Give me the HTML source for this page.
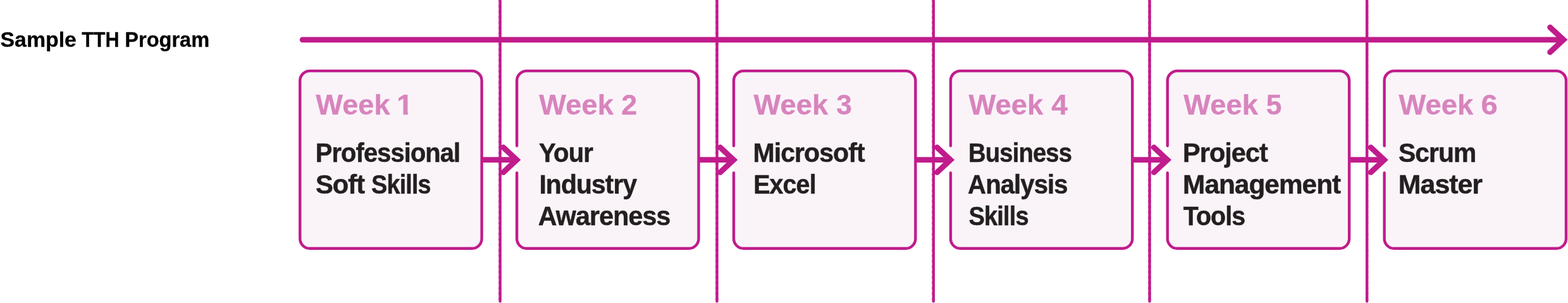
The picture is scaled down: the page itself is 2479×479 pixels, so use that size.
<!DOCTYPE html>
<html lang="en">
<head>
<meta charset="utf-8">
<title>Sample TTH Program</title>
<style>
html,body{margin:0;padding:0;background:#fff;}
body{width:2479px;height:479px;overflow:hidden;}
svg{display:block;will-change:transform;}
text{font-family:"Liberation Sans",sans-serif;font-weight:bold;}
</style>
</head>
<body>
<svg width="2479" height="479" viewBox="0 0 2479 479">
<text y="73.75" font-size="33.6" fill="#000000" stroke="#000000" stroke-width="0.3" stroke-linejoin="round"><tspan x="0.50" textLength="120.36" lengthAdjust="spacingAndGlyphs">Sample</tspan> <tspan x="129.16" textLength="59.39" lengthAdjust="spacingAndGlyphs">TTH</tspan> <tspan x="197.29" textLength="133.89" lengthAdjust="spacingAndGlyphs">Program</tspan></text>
<path d="M489.80 112.10H746.15A15.5 15.5 0 0 1 761.65 127.60V377.30A15.5 15.5 0 0 1 746.15 392.80H489.80A15.5 15.5 0 0 1 474.30 377.30V127.60A15.5 15.5 0 0 1 489.80 112.10Z" fill="#faf4f9"/>
<path d="M489.80 112.10H746.15A15.5 15.5 0 0 1 761.65 127.60V377.30A15.5 15.5 0 0 1 746.15 392.80H489.80A15.5 15.5 0 0 1 474.30 377.30V127.60A15.5 15.5 0 0 1 489.80 112.10Z" fill="none" stroke="#c01c8c" stroke-width="4.4" stroke-linecap="round"/>
<path d="M832.67 112.10H1089.02A15.5 15.5 0 0 1 1104.52 127.60V377.30A15.5 15.5 0 0 1 1089.02 392.80H832.67A15.5 15.5 0 0 1 817.17 377.30V127.60A15.5 15.5 0 0 1 832.67 112.10Z" fill="#faf4f9"/>
<path d="M817.17 230.60V127.60A15.5 15.5 0 0 1 832.67 112.10H1089.02A15.5 15.5 0 0 1 1104.52 127.60V377.30A15.5 15.5 0 0 1 1089.02 392.80H832.67A15.5 15.5 0 0 1 817.17 377.30V273.20" fill="none" stroke="#c01c8c" stroke-width="4.4" stroke-linecap="round"/>
<path d="M1175.54 112.10H1431.89A15.5 15.5 0 0 1 1447.39 127.60V377.30A15.5 15.5 0 0 1 1431.89 392.80H1175.54A15.5 15.5 0 0 1 1160.04 377.30V127.60A15.5 15.5 0 0 1 1175.54 112.10Z" fill="#faf4f9"/>
<path d="M1160.04 230.60V127.60A15.5 15.5 0 0 1 1175.54 112.10H1431.89A15.5 15.5 0 0 1 1447.39 127.60V377.30A15.5 15.5 0 0 1 1431.89 392.80H1175.54A15.5 15.5 0 0 1 1160.04 377.30V273.20" fill="none" stroke="#c01c8c" stroke-width="4.4" stroke-linecap="round"/>
<path d="M1518.41 112.10H1774.76A15.5 15.5 0 0 1 1790.26 127.60V377.30A15.5 15.5 0 0 1 1774.76 392.80H1518.41A15.5 15.5 0 0 1 1502.91 377.30V127.60A15.5 15.5 0 0 1 1518.41 112.10Z" fill="#faf4f9"/>
<path d="M1502.91 230.60V127.60A15.5 15.5 0 0 1 1518.41 112.10H1774.76A15.5 15.5 0 0 1 1790.26 127.60V377.30A15.5 15.5 0 0 1 1774.76 392.80H1518.41A15.5 15.5 0 0 1 1502.91 377.30V273.20" fill="none" stroke="#c01c8c" stroke-width="4.4" stroke-linecap="round"/>
<path d="M1861.28 112.10H2117.63A15.5 15.5 0 0 1 2133.13 127.60V377.30A15.5 15.5 0 0 1 2117.63 392.80H1861.28A15.5 15.5 0 0 1 1845.78 377.30V127.60A15.5 15.5 0 0 1 1861.28 112.10Z" fill="#faf4f9"/>
<path d="M1845.78 230.60V127.60A15.5 15.5 0 0 1 1861.28 112.10H2117.63A15.5 15.5 0 0 1 2133.13 127.60V377.30A15.5 15.5 0 0 1 2117.63 392.80H1861.28A15.5 15.5 0 0 1 1845.78 377.30V273.20" fill="none" stroke="#c01c8c" stroke-width="4.4" stroke-linecap="round"/>
<path d="M2204.15 112.10H2460.50A15.5 15.5 0 0 1 2476.00 127.60V377.30A15.5 15.5 0 0 1 2460.50 392.80H2204.15A15.5 15.5 0 0 1 2188.65 377.30V127.60A15.5 15.5 0 0 1 2204.15 112.10Z" fill="#faf4f9"/>
<path d="M2188.65 230.60V127.60A15.5 15.5 0 0 1 2204.15 112.10H2460.50A15.5 15.5 0 0 1 2476.00 127.60V377.30A15.5 15.5 0 0 1 2460.50 392.80H2204.15A15.5 15.5 0 0 1 2188.65 377.30V273.20" fill="none" stroke="#c01c8c" stroke-width="4.4" stroke-linecap="round"/>
<path d="M761.65 252.7H815.00" fill="none" stroke="#c01c8c" stroke-width="8.7"/>
<path d="M795.70 233.00L817.00 252.7L795.70 272.40" fill="none" stroke="#c01c8c" stroke-width="8.8" stroke-linecap="round" stroke-linejoin="miter"/>
<path d="M1104.52 252.7H1157.87" fill="none" stroke="#c01c8c" stroke-width="8.7"/>
<path d="M1138.57 233.00L1159.87 252.7L1138.57 272.40" fill="none" stroke="#c01c8c" stroke-width="8.8" stroke-linecap="round" stroke-linejoin="miter"/>
<path d="M1447.39 252.7H1500.74" fill="none" stroke="#c01c8c" stroke-width="8.7"/>
<path d="M1481.44 233.00L1502.74 252.7L1481.44 272.40" fill="none" stroke="#c01c8c" stroke-width="8.8" stroke-linecap="round" stroke-linejoin="miter"/>
<path d="M1790.26 252.7H1843.61" fill="none" stroke="#c01c8c" stroke-width="8.7"/>
<path d="M1824.31 233.00L1845.61 252.7L1824.31 272.40" fill="none" stroke="#c01c8c" stroke-width="8.8" stroke-linecap="round" stroke-linejoin="miter"/>
<path d="M2133.13 252.7H2186.48" fill="none" stroke="#c01c8c" stroke-width="8.7"/>
<path d="M2167.18 233.00L2188.48 252.7L2167.18 272.40" fill="none" stroke="#c01c8c" stroke-width="8.8" stroke-linecap="round" stroke-linejoin="miter"/>
<path d="M790.65 2.7V476.3" fill="none" stroke="#c01c8c" stroke-width="4.4" stroke-linecap="round"/>
<path d="M790.50 1.43V476.5" fill="none" stroke="#c01c8c" stroke-width="4.7" stroke-linecap="round" stroke-dasharray="0 8.57"/>
<path d="M1133.55 2.7V476.3" fill="none" stroke="#c01c8c" stroke-width="4.4" stroke-linecap="round"/>
<path d="M1133.40 1.43V476.5" fill="none" stroke="#c01c8c" stroke-width="4.7" stroke-linecap="round" stroke-dasharray="0 8.57"/>
<path d="M1475.80 2.7V476.3" fill="none" stroke="#c01c8c" stroke-width="4.4" stroke-linecap="round"/>
<path d="M1475.65 1.43V476.5" fill="none" stroke="#c01c8c" stroke-width="4.7" stroke-linecap="round" stroke-dasharray="0 8.57"/>
<path d="M1817.55 2.7V476.3" fill="none" stroke="#c01c8c" stroke-width="4.4" stroke-linecap="round"/>
<path d="M1817.40 1.43V476.5" fill="none" stroke="#c01c8c" stroke-width="4.7" stroke-linecap="round" stroke-dasharray="0 8.57"/>
<path d="M2161.20 2.7V476.3" fill="none" stroke="#c01c8c" stroke-width="4.4" stroke-linecap="round"/>
<path d="M2161.05 1.43V476.5" fill="none" stroke="#c01c8c" stroke-width="4.7" stroke-linecap="round" stroke-dasharray="0 8.57"/>
<path d="M478.2 62.85H2469.90" fill="none" stroke="#c01c8c" stroke-width="8.8" stroke-linecap="round"/>
<path d="M2450.60 43.15L2471.90 62.85L2450.60 82.55" fill="none" stroke="#c01c8c" stroke-width="8.8" stroke-linecap="round" stroke-linejoin="miter"/>
<text y="180.85" font-size="44" fill="#d884bd" stroke="#d884bd" stroke-width="0.3" stroke-linejoin="round" clip-path="url(#c1)"><tspan x="499.26" textLength="117.51" lengthAdjust="spacingAndGlyphs">Week</tspan> <tspan x="627.05" textLength="25.92" lengthAdjust="spacingAndGlyphs">1</tspan></text>
<text y="256.20" font-size="43" fill="#231f20" stroke="#231f20" stroke-width="0.5" stroke-linejoin="round"><tspan x="498.75" textLength="228.54" lengthAdjust="spacingAndGlyphs" letter-spacing="-1">Professional</tspan></text>
<text y="306.20" font-size="43" fill="#231f20" stroke="#231f20" stroke-width="0.5" stroke-linejoin="round"><tspan x="498.90" textLength="77.24" lengthAdjust="spacingAndGlyphs" letter-spacing="-1">Soft</tspan> <tspan x="587.08" textLength="93.69" lengthAdjust="spacingAndGlyphs" letter-spacing="-1">Skills</tspan></text>
<text y="180.85" font-size="44" fill="#d884bd" stroke="#d884bd" stroke-width="0.3" stroke-linejoin="round"><tspan x="852.36" textLength="117.50" lengthAdjust="spacingAndGlyphs">Week</tspan> <tspan x="982.29" textLength="25.13" lengthAdjust="spacingAndGlyphs">2</tspan></text>
<text y="256.20" font-size="43" fill="#231f20" stroke="#231f20" stroke-width="0.5" stroke-linejoin="round"><tspan x="851.98" textLength="85.13" lengthAdjust="spacingAndGlyphs" letter-spacing="-1">Your</tspan></text>
<text y="306.20" font-size="43" fill="#231f20" stroke="#231f20" stroke-width="0.5" stroke-linejoin="round"><tspan x="852.43" textLength="153.87" lengthAdjust="spacingAndGlyphs" letter-spacing="-1">Industry</tspan></text>
<text y="356.20" font-size="43" fill="#231f20" stroke="#231f20" stroke-width="0.5" stroke-linejoin="round"><tspan x="850.73" textLength="208.74" lengthAdjust="spacingAndGlyphs" letter-spacing="-1">Awareness</tspan></text>
<text y="180.85" font-size="44" fill="#d884bd" stroke="#d884bd" stroke-width="0.3" stroke-linejoin="round"><tspan x="1191.56" textLength="117.75" lengthAdjust="spacingAndGlyphs">Week</tspan> <tspan x="1322.35" textLength="24.61" lengthAdjust="spacingAndGlyphs">3</tspan></text>
<text y="256.20" font-size="43" fill="#231f20" stroke="#231f20" stroke-width="0.5" stroke-linejoin="round"><tspan x="1190.42" textLength="176.31" lengthAdjust="spacingAndGlyphs" letter-spacing="-1">Microsoft</tspan></text>
<text y="306.20" font-size="43" fill="#231f20" stroke="#231f20" stroke-width="0.5" stroke-linejoin="round"><tspan x="1191.17" textLength="98.53" lengthAdjust="spacingAndGlyphs" letter-spacing="-1">Excel</tspan></text>
<text y="180.85" font-size="44" fill="#d884bd" stroke="#d884bd" stroke-width="0.3" stroke-linejoin="round"><tspan x="1531.56" textLength="117.75" lengthAdjust="spacingAndGlyphs">Week</tspan> <tspan x="1662.31" textLength="25.80" lengthAdjust="spacingAndGlyphs">4</tspan></text>
<text y="256.20" font-size="43" fill="#231f20" stroke="#231f20" stroke-width="0.5" stroke-linejoin="round"><tspan x="1530.99" textLength="163.15" lengthAdjust="spacingAndGlyphs" letter-spacing="-1">Business</tspan></text>
<text y="306.20" font-size="43" fill="#231f20" stroke="#231f20" stroke-width="0.5" stroke-linejoin="round"><tspan x="1530.11" textLength="157.58" lengthAdjust="spacingAndGlyphs" letter-spacing="-1">Analysis</tspan></text>
<text y="356.20" font-size="43" fill="#231f20" stroke="#231f20" stroke-width="0.5" stroke-linejoin="round"><tspan x="1531.54" textLength="94.18" lengthAdjust="spacingAndGlyphs" letter-spacing="-1">Skills</tspan></text>
<text y="180.85" font-size="44" fill="#d884bd" stroke="#d884bd" stroke-width="0.3" stroke-linejoin="round"><tspan x="1871.36" textLength="117.50" lengthAdjust="spacingAndGlyphs">Week</tspan> <tspan x="2001.79" textLength="24.66" lengthAdjust="spacingAndGlyphs">5</tspan></text>
<text y="256.20" font-size="43" fill="#231f20" stroke="#231f20" stroke-width="0.5" stroke-linejoin="round"><tspan x="1870.03" textLength="133.87" lengthAdjust="spacingAndGlyphs" letter-spacing="-1">Project</tspan></text>
<text y="306.20" font-size="43" fill="#231f20" stroke="#231f20" stroke-width="0.5" stroke-linejoin="round"><tspan x="1870.10" textLength="249.07" lengthAdjust="spacingAndGlyphs" letter-spacing="-1">Management</tspan></text>
<text y="356.20" font-size="43" fill="#231f20" stroke="#231f20" stroke-width="0.5" stroke-linejoin="round"><tspan x="1870.73" textLength="97.40" lengthAdjust="spacingAndGlyphs" letter-spacing="-1">Tools</tspan></text>
<text y="180.85" font-size="44" fill="#d884bd" stroke="#d884bd" stroke-width="0.3" stroke-linejoin="round"><tspan x="2211.56" textLength="117.75" lengthAdjust="spacingAndGlyphs">Week</tspan> <tspan x="2341.44" textLength="26.26" lengthAdjust="spacingAndGlyphs">6</tspan></text>
<text y="256.20" font-size="43" fill="#231f20" stroke="#231f20" stroke-width="0.5" stroke-linejoin="round"><tspan x="2210.99" textLength="122.39" lengthAdjust="spacingAndGlyphs" letter-spacing="-1">Scrum</tspan></text>
<text y="306.20" font-size="43" fill="#231f20" stroke="#231f20" stroke-width="0.5" stroke-linejoin="round"><tspan x="2210.85" textLength="132.18" lengthAdjust="spacingAndGlyphs" letter-spacing="-1">Master</tspan></text>
<defs><clipPath id="c1"><rect x="0" y="121.0" width="626.20" height="80"/><rect x="626.20" y="121.0" width="18.60" height="54.51"/><rect x="637.55" y="121.0" width="7.25" height="80"/></clipPath>
</defs>
</svg>
</body>
</html>
